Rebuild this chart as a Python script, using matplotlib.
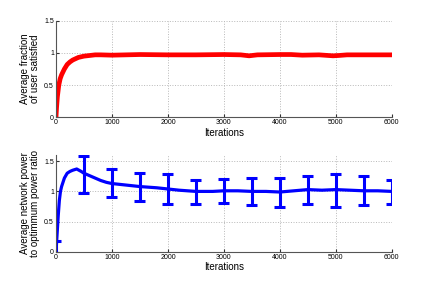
import numpy as np
import matplotlib.pyplot as plt

plt.rcParams['font.family'] = ['Liberation Sans', 'DejaVu Sans']

# top panel: fraction of users satisfied
it_sat = [0, 10, 25, 50, 75, 100, 150, 200, 250, 300, 400, 500, 600, 700, 800,
          1000, 1500, 2000, 2500, 3000, 3300, 3450, 3600, 4000, 4200, 4400,
          4700, 4950, 5050, 5200, 5600, 6000]
frac_sat = [0.0, 0.15, 0.32, 0.5, 0.6, 0.66, 0.75, 0.82, 0.86, 0.89, 0.93, 0.95,
            0.96, 0.97, 0.97, 0.965, 0.975, 0.97, 0.97, 0.975, 0.97, 0.955, 0.97,
            0.975, 0.975, 0.965, 0.97, 0.955, 0.96, 0.97, 0.97, 0.97]

# bottom panel: network power / optimum power ratio
it_pow = [0, 20, 40, 60, 80, 100, 150, 200, 250, 300, 370, 450, 500, 600, 700,
          800, 900, 1000, 1200, 1500, 1800, 2000, 2200, 2500, 2800, 3000, 3250,
          3500, 3750, 4000, 4250, 4500, 4750, 5000, 5250, 5500, 5750, 6000]
ratio_pow = [0.0, 0.3, 0.6, 0.85, 1.0, 1.08, 1.22, 1.3, 1.33, 1.35, 1.37, 1.33,
             1.3, 1.26, 1.22, 1.18, 1.15, 1.13, 1.11, 1.08, 1.06, 1.04, 1.02,
             1.0, 1.0, 1.01, 1.01, 1.0, 1.0, 0.99, 1.01, 1.03, 1.02, 1.03, 1.02,
             1.01, 1.01, 1.0]

# error bars: positions, lower and upper ends
eb_x = [0, 500, 1000, 1500, 2000, 2500, 3000, 3500, 4000, 4500, 5000, 5500, 6000]
eb_lo = [-0.18, 0.98, 0.90, 0.835, 0.80, 0.80, 0.81, 0.77, 0.74, 0.79, 0.75, 0.775, 0.80]
eb_hi = [0.18, 1.58, 1.37, 1.30, 1.285, 1.19, 1.20, 1.22, 1.22, 1.25, 1.285, 1.25, 1.19]

fig = plt.figure(figsize=(4.32, 2.84), dpi=100)
ax1 = fig.add_axes([0.1296, 0.587, 0.7774, 0.340])
ax2 = fig.add_axes([0.1296, 0.1127, 0.7774, 0.3413])


def style(ax):
    ax.set_xlim(0, 6000)
    ax.set_xticks([0, 1000, 2000, 3000, 4000, 5000, 6000])
    ax.grid(True, linestyle=':', color='#b8b8b8', linewidth=0.7)
    ax.set_axisbelow(True)
    for s in ['top', 'right']:
        ax.spines[s].set_visible(False)
    for s in ['left', 'bottom']:
        ax.spines[s].set_color('#555555')
        ax.spines[s].set_linewidth(0.8)
    ax.tick_params(direction='in', length=2, labelsize=5, pad=1.5,
                   colors='#333333', labelcolor='black')
    ax.set_xlabel('Iterations', fontsize=7, labelpad=1)


ax1.plot(it_sat, frac_sat, color='red', linewidth=3.4, solid_joinstyle='round')
ax1.set_ylim(0, 1.5)
ax1.set_yticks([0, 0.5, 1, 1.5])
ax1.set_yticklabels(['0', '0.5', '1', '1.5'])
style(ax1)
ax1.set_ylabel('Average fraction\nof user satisfied', fontsize=7, labelpad=3,
               linespacing=1.0)

ax2.plot(it_pow, ratio_pow, color='blue', linewidth=2.3)
# error bars drawn as line collections so the caps get clipped at the axes edge
cap = 98  # half cap width in iterations
ax2.vlines(eb_x, eb_lo, eb_hi, color='blue', linewidth=2.2)
ax2.hlines(eb_lo, np.array(eb_x) - cap, np.array(eb_x) + cap, color='blue', linewidth=2.2)
ax2.hlines(eb_hi, np.array(eb_x) - cap, np.array(eb_x) + cap, color='blue', linewidth=2.2)
ax2.set_ylim(0, 1.6)
ax2.set_yticks([0, 0.5, 1, 1.5])
ax2.set_yticklabels(['0', '0.5', '1', '1.5'])
style(ax2)
ax2.set_ylabel('Average network power\nto optimmum power ratio', fontsize=7,
               labelpad=3, linespacing=1.0)

fig.savefig('out.png', dpi=100)
